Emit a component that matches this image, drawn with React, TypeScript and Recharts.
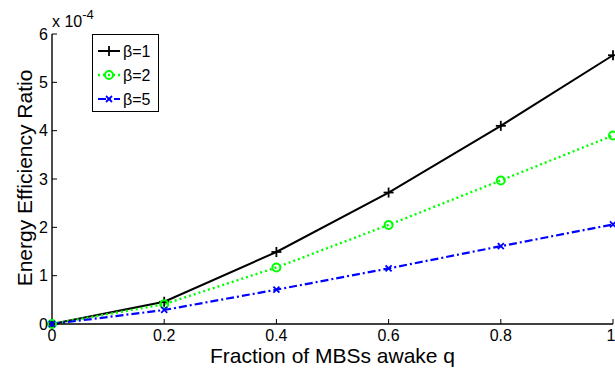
import React from 'react';
import { LineChart, Line, XAxis, YAxis } from 'recharts';

const qValues = [0, 0.2, 0.4, 0.6, 0.8, 1];
const beta1 = [0, 0.46, 1.49, 2.72, 4.1, 5.56];
const beta2 = [0, 0.41, 1.17, 2.05, 2.97, 3.9];
const beta5 = [0, 0.29, 0.71, 1.15, 1.61, 2.06];
const xTicks = [0, 0.2, 0.4, 0.6, 0.8, 1];
const yTicks = [0, 1, 2, 3, 4, 5, 6];

const data = qValues.map((q, i) => ({ q, b1: beta1[i], b2: beta2[i], b5: beta5[i] }));

const FONT = 'Arial, "Liberation Sans", Helvetica, sans-serif';

const PlusDot = (props: any) => {
  const { cx, cy } = props;
  if (cx == null || cy == null) return null;
  return (
    <g stroke="#000" strokeWidth={1.8}>
      <line x1={cx - 5} y1={cy} x2={cx + 5} y2={cy} />
      <line x1={cx} y1={cy - 5} x2={cx} y2={cy + 5} />
    </g>
  );
};

const CircleDot = (props: any) => {
  const { cx, cy } = props;
  if (cx == null || cy == null) return null;
  return <circle cx={cx} cy={cy} r={4} fill="none" stroke="#00ff00" strokeWidth={2} />;
};

const CrossDot = (props: any) => {
  const { cx, cy } = props;
  if (cx == null || cy == null) return null;
  return (
    <g stroke="#0000ff" strokeWidth={1.8}>
      <line x1={cx - 3} y1={cy - 3} x2={cx + 3} y2={cy + 3} />
      <line x1={cx - 3} y1={cy + 3} x2={cx + 3} y2={cy - 3} />
    </g>
  );
};

const legendRows = [
  { name: 'β=1', color: '#000', width: 2, dash: undefined as string | undefined, Dot: PlusDot },
  { name: 'β=2', color: '#00ff00', width: 2.4, dash: '2 3', Dot: CircleDot },
  { name: 'β=5', color: '#0000ff', width: 2.2, dash: '8 3 2 3', Dot: CrossDot },
];

const LegendBox = () => (
  <svg width={67} height={79} style={{ position: 'absolute', left: 92, top: 34, display: 'block' }}>
    <rect x={0.5} y={0.5} width={66} height={77} fill="#fff" stroke="#000" strokeWidth={1} />
    {legendRows.map((r, i) => {
      const y = 17 + i * 24;
      return (
        <g key={r.name}>
          <line x1={6} y1={y} x2={28} y2={y} stroke={r.color} strokeWidth={r.width} strokeDasharray={r.dash} />
          <r.Dot cx={17} cy={y} />
          <text x={31} y={y + 6} fontSize={16} fontFamily={FONT} fill="#000">
            {r.name}
          </text>
        </g>
      );
    })}
  </svg>
);

const YTitle = () => {
  const x = 32;
  const y = 178;
  return (
    <text
      x={x}
      y={y}
      transform={`rotate(-90 ${x} ${y})`}
      textAnchor="middle"
      fontSize={21}
      fontFamily={FONT}
      fill="#000"
    >
      Energy Efficiency Ratio
    </text>
  );
};

export default function App() {
  const tickStyle = { fill: '#000', fontSize: 16, fontFamily: FONT };
  return (
    <div style={{ position: 'absolute', left: 0, top: 0, width: 615, height: 372, background: '#fff' }}>
      <LineChart width={615} height={372} data={data} margin={{ top: 34, right: 2, left: 0, bottom: 0 }}>
        <XAxis
          xAxisId="b"
          dataKey="q"
          type="number"
          domain={[0, 1]}
          ticks={xTicks}
          height={48}
          stroke="#000"
          tickSize={-5}
          tickMargin={11}
          tick={tickStyle}
          axisLine={{ stroke: '#000', strokeWidth: 1.4 }}
          label={{ value: 'Fraction of MBSs awake q', position: 'insideBottom', offset: 9, fill: '#000', fontSize: 21, fontFamily: FONT }}
        />
        <XAxis
          xAxisId="t"
          orientation="top"
          dataKey="q"
          type="number"
          domain={[0, 1]}
          ticks={xTicks}
          height={0}
          stroke="#000"
          tickSize={-5}
          tickFormatter={() => ''}
        />
        <YAxis
          yAxisId="l"
          type="number"
          domain={[0, 6]}
          ticks={yTicks}
          width={52}
          stroke="#000"
          tickSize={-5}
          tickMargin={9}
          tick={tickStyle}
          axisLine={{ stroke: '#000', strokeWidth: 1.4 }}
          label={{ content: YTitle }}
        />
        <YAxis
          yAxisId="r"
          orientation="right"
          type="number"
          domain={[0, 6]}
          ticks={yTicks}
          width={0}
          stroke="#000"
          tickSize={-5}
          tickFormatter={() => ''}
        />
        <Line xAxisId="b" yAxisId="l" dataKey="b1" name="β=1" stroke="#000" strokeWidth={2} dot={<PlusDot />} isAnimationActive={false} />
        <Line xAxisId="b" yAxisId="l" dataKey="b2" name="β=2" stroke="#00ff00" strokeWidth={2.4} strokeDasharray="2 3" dot={<CircleDot />} isAnimationActive={false} />
        <Line xAxisId="b" yAxisId="l" dataKey="b5" name="β=5" stroke="#0000ff" strokeWidth={2.2} strokeDasharray="8 3 2 3" dot={<CrossDot />} isAnimationActive={false} />
      </LineChart>
      <LegendBox />
      <div style={{ position: 'absolute', left: 52, top: 12, fontFamily: FONT, fontSize: 16, lineHeight: '20px', color: '#000', whiteSpace: 'nowrap' }}>
        x 10<span style={{ fontSize: 13, position: 'relative', top: -8 }}>-4</span>
      </div>
    </div>
  );
}
